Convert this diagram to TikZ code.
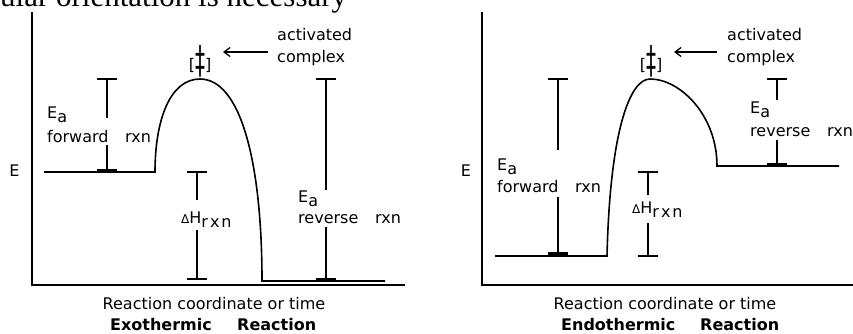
\documentclass[tikz,border=0pt]{standalone}
\usepackage{fontspec}
\setmainfont{DejaVu Sans}
\newfontfamily\serifx{Liberation Serif}
\usetikzlibrary{arrows.meta}
\newcommand\lowr[1]{\raisebox{-4pt}{#1}}
\newcommand\dhtext{{\fontsize{12}{14}\selectfont Δ}H\lowr{r\kern2pt x\kern2pt n}}
\newcommand\tstext{[\raisebox{-3pt}{\scalebox{1.25}[2.4]{‡}}]}
\tikzset{
  lbl/.style={font=\fontsize{16}{19}\selectfont, inner sep=0pt, anchor=base west},
  boldlbl/.style={font=\fontsize{16}{19}\selectfont\bfseries, inner sep=0pt, anchor=base west},
  dhlbl/.style={font=\fontsize{16}{19}\selectfont, inner sep=0pt, anchor=base west},
  headlbl/.style={font=\serifx\fontsize{31}{36}\selectfont, inner sep=0pt, anchor=base west},
  tslbl/.style={font=\fontsize{16}{19}\selectfont, inner sep=0pt, anchor=base},
  axisline/.style={line width=2pt},
  curveline/.style={line width=1.6pt},
  barline/.style={line width=1.5pt},
  footline/.style={line width=2.2pt},
  pointer/.style={line width=1.3pt, -{Straight Barb[length=6pt,width=9pt,line width=1.3pt]}},
}
\begin{document}
\begin{tikzpicture}[x=1pt,y=-1pt]
\useasboundingbox (0,0) rectangle (853,333);
\clip (0,0) rectangle (853,333);
\node[headlbl] (head) at (0,6) {ular orientation is necessary};

% ---------------- left: exothermic ----------------
\draw[axisline] (32,12) -- (32,285) -- (405,285);
\node[lbl,anchor=center] (E1) at (14.5,171) {E};
\draw[curveline] (44,172) -- (155,172) .. controls (155,120) and (170,79) .. (200,79)
  .. controls (240,79) and (262,160) .. (262,281) -- (385,281);
% Ea forward
\draw[barline] (97,79) -- (117,79) (107,79) -- (107,118) (107,145) -- (107,171);
\draw[footline] (97,170.5) -- (117,170.5);
% Delta H
\draw[barline] (187,172) -- (207,172) (197,172) -- (197,200) (197,230) -- (197,279) (187,279) -- (207,279);
% Ea reverse
\draw[barline] (316,79) -- (336,79) (326,79) -- (326,190) (326,227) -- (326,280);
\draw[footline] (316,279.5) -- (336,279.5);
\node[lbl] (Ea1) at (47,118) {E\lowr{a}};
\node[lbl] (fw1) at (47,142) {forward};
\node[lbl] (rx1) at (125,142) {rxn};
\node[dhlbl] (dH1) at (181,223) {\dhtext};
\node[lbl] (Ea1r) at (298,202) {E\lowr{a}};
\node[lbl] (rv1) at (298,223) {reverse};
\node[lbl] (rx1r) at (375,223) {rxn};
\node[lbl] (ac1) at (277,40) {activated};
\node[lbl] (cx1) at (277,62) {complex};
\node[tslbl] (ts1) at (200,70) {\tstext};
\coordinate (p1s) at (268,52);
\coordinate (p1e) at (223,52);
\draw[pointer] (p1s) -- (p1e);
\node[lbl,anchor=base] (rc1) at (214,309) {Reaction coordinate or time};
\node[boldlbl] (ex1) at (110,330) {Exothermic};
\node[boldlbl] (re1) at (237,330) {Reaction};

% ---------------- right: endothermic ----------------
\draw[axisline] (482,12) -- (482,285) -- (853,285);
\node[lbl,anchor=center] (E2) at (466,171) {E};
\draw[curveline] (495,256) -- (607,256) .. controls (610,130) and (630,79) .. (650,79)
  .. controls (680,79) and (717,115) .. (717,166) -- (839,166);
% Ea forward
\draw[barline] (548,79) -- (568,79) (558,79) -- (558,150) (558,197) -- (558,254);
\draw[footline] (548,253.5) -- (568,253.5);
% Delta H
\draw[barline] (638,172) -- (658,172) (648,172) -- (648,195) (648,223) -- (648,256) (638,256) -- (658,256);
% Ea reverse
\draw[barline] (767,79) -- (787,79) (777,79) -- (777,100) (777,140) -- (777,165);
\draw[footline] (767,164) -- (787,164);
\node[lbl] (Ea2) at (497,170) {E\lowr{a}};
\node[lbl] (fw2) at (497,192) {forward};
\node[lbl] (rx2) at (575,192) {rxn};
\node[dhlbl] (dH2) at (632,213) {\dhtext};
\node[lbl] (Ea2r) at (750,113) {E\lowr{a}};
\node[lbl] (rv2) at (750,136) {reverse};
\node[lbl] (rx2r) at (827,136) {rxn};
\node[lbl] (ac2) at (727,40) {activated};
\node[lbl] (cx2) at (727,62) {complex};
\node[tslbl] (ts2) at (651,70) {\tstext};
\coordinate (p2s) at (717,52);
\coordinate (p2e) at (674,52);
\draw[pointer] (p2s) -- (p2e);
\node[lbl,anchor=base] (rc2) at (665,309) {Reaction coordinate or time};
\node[boldlbl] (en2) at (561,330) {Endothermic};
\node[boldlbl] (re2) at (700,330) {Reaction};
\end{tikzpicture}
\end{document}
